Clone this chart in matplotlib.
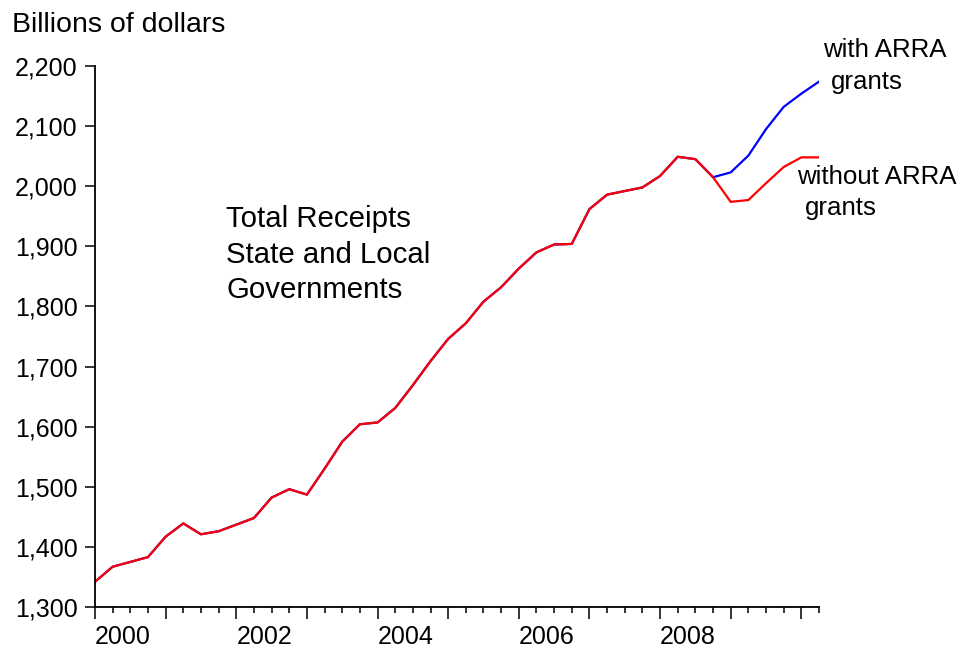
import matplotlib
matplotlib.use("Agg")
import matplotlib.pyplot as plt
from matplotlib.ticker import FuncFormatter, MultipleLocator, FixedLocator

plt.rcParams['font.family'] = ['Liberation Sans', 'DejaVu Sans']

# Quarterly observations 2000Q1 .. 2010Q2
quarters = [f"{y}Q{q}" for y in range(2000, 2011) for q in range(1, 5)][:42]

# Shared history 2000Q1 .. 2008Q4 (billions of dollars)
base = [1342, 1367, 1375, 1383, 1417, 1439, 1421, 1426,
        1437, 1448, 1482, 1496, 1487, 1530, 1575, 1604,
        1607, 1631, 1669, 1709, 1746, 1772, 1808, 1832,
        1863, 1890, 1903, 1904, 1962, 1986, 1992, 1998,
        2017, 2049, 2045, 2015]
# 2009Q1 .. 2010Q2
with_arra_tail = [2023, 2051, 2095, 2132, 2154, 2174]
without_arra_tail = [1974, 1977, 2005, 2032, 2048, 2048]

with_arra = base + with_arra_tail
without_arra = base + without_arra_tail

year_labels = ["2000", "", "2002", "", "2004", "", "2006", "", "2008", "", ""]
y_ticks = list(range(1300, 2201, 100))

W, H = 963, 652
fig = plt.figure(figsize=(W / 100, H / 100), dpi=100)
ax = fig.add_axes([95 / W, 1 - 607 / H, (819 - 95) / W, (607 - 66) / H])

x = list(range(len(quarters)))
ax.plot(x, with_arra, color='#0000FF', lw=1.6, solid_joinstyle='miter')
ax.plot(x, without_arra, color='#FF0000', lw=1.6, solid_joinstyle='miter')

ax.set_xlim(0, len(quarters) - 1)
ax.set_ylim(1300, 2200)

for s in ['top', 'right']:
    ax.spines[s].set_visible(False)
for s in ['left', 'bottom']:
    ax.spines[s].set_linewidth(1.3)
    ax.spines[s].set_color('black')

ax.xaxis.set_major_locator(FixedLocator(list(range(0, 41, 4))))
ax.xaxis.set_minor_locator(MultipleLocator(1))
ax.set_xticklabels(year_labels)
for lab in ax.get_xticklabels():
    lab.set_ha('left')

ax.yaxis.set_major_locator(FixedLocator(y_ticks))
ax.yaxis.set_major_formatter(FuncFormatter(lambda v, p: f"{int(v):,}"))

ax.tick_params(axis='x', which='major', direction='out', length=8.6, width=1.1,
               labelsize=18, pad=4.5, colors='black')
ax.tick_params(axis='x', which='minor', direction='out', length=4.3, width=1.1)
ax.tick_params(axis='y', which='major', direction='out', length=7, width=1.1,
               labelsize=18, pad=5.5)

def ftext(px, py, s, size):
    fig.text(px / W, 1 - py / H, s, fontsize=size, ha='left', va='baseline')

ftext(12, 32, "Billions of dollars", 20.5)
ftext(226, 227, "Total Receipts", 21.2)
ftext(226, 263, "State and Local", 21.2)
ftext(226, 298, "Governments", 21.2)
ftext(823, 57, "with ARRA", 18.6)
ftext(831, 89, "grants", 18.6)
ftext(797, 184, "without ARRA", 18.6)
ftext(805, 215, "grants", 18.6)

fig.savefig("out.png", dpi=100)
